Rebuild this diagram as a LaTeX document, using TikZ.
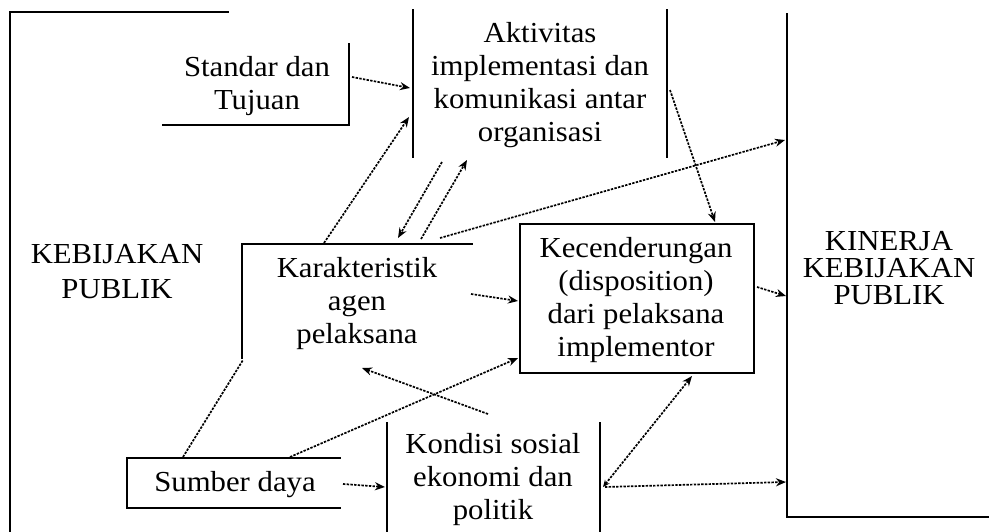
\documentclass[tikz,border=0pt]{standalone}
\usepackage{fontspec}
\setmainfont[FakeStretch=1.06]{Liberation Serif}
\usetikzlibrary{arrows.meta}
\begin{document}
\begin{tikzpicture}[x=1pt,y=-1pt,
  frame/.style={line width=1.8pt, line cap=rect},
  lbl/.style={align=center, inner sep=0pt, font=\fontsize{29}{33}\selectfont},
  conn/.style={line width=1.7pt, dash pattern=on 2.4pt off 1.3pt, -{Stealth[length=10pt,width=8pt]}},
  link/.style={line width=1.7pt, dash pattern=on 2.4pt off 1.3pt},
  both/.style={line width=1.7pt, dash pattern=on 2.4pt off 1.3pt, {Stealth[length=7pt,width=6pt]}-{Stealth[length=10pt,width=8pt]}}]
\path[use as bounding box, fill=white] (0,0) rectangle (989,531);

% frames (partial outlines as in the scan)
\draw[frame] (10,531) -- (10,12) -- (228,12);
\draw[frame] (163,125) -- (349,125) -- (349,44);
\draw[frame] (413,10) -- (413,157);
\draw[frame] (667,10) -- (667,157);
\draw[frame] (787,14) -- (787,517) -- (989,517);
\draw[frame] (242,358) -- (242,244) -- (472,244);
\draw[frame] (520,224) rectangle (754,373);
\draw[frame] (340,458) -- (127,458) -- (127,508) -- (340,508);
\draw[frame] (387,423) -- (387,531);
\draw[frame] (600,423) -- (600,531);

% texts
\node[lbl] (kp) at (117,272) {KEBIJAKAN\\[2pt]PUBLIK};
\node[lbl] (std) at (257,86) {Standar dan\\Tujuan};
\node[lbl] (akt) at (540,85) {Aktivitas\\implementasi dan\\komunikasi antar\\organisasi};
\node[lbl] (kar) at (357,304) {Karakteristik\\agen\\pelaksana};
\node[lbl] (kec) at (636,300) {Kecenderungan\\(disposition)\\dari pelaksana\\implementor};
\node[lbl] (sum) at (235,485) {Sumber daya};
\node[lbl] (kon) at (493,480) {Kondisi sosial\\ekonomi dan\\politik};
\node[lbl, font=\fontsize{29}{27}\selectfont] (kin) at (889,268) {KINERJA\\KEBIJAKAN\\PUBLIK};

% connector end points
\coordinate (stdR) at (352,77);   \coordinate (aktL1) at (410,88);
\coordinate (karT1) at (324,243); \coordinate (aktL2) at (409,117);
\coordinate (aktB1) at (442,162); \coordinate (karT2) at (398,238);
\coordinate (karT3) at (421,239); \coordinate (aktB2) at (467,160);
\coordinate (karT4) at (440,238); \coordinate (kinL1) at (785,140);
\coordinate (aktR) at (670,90);   \coordinate (kecT) at (715,222);
\coordinate (karR) at (471,294);  \coordinate (kecL1) at (518,301);
\coordinate (kecR) at (757,287);  \coordinate (kinL2) at (786,296);
\coordinate (sumT1) at (290,457); \coordinate (kecL2) at (518,358);
\coordinate (konT) at (488,414);  \coordinate (karB) at (362,368);
\coordinate (sumT2) at (183,457); \coordinate (karC) at (243,360);
\coordinate (sumR) at (343,484);  \coordinate (konL) at (385,487);
\coordinate (konR1) at (603,487); \coordinate (kecB) at (692,376);
\coordinate (konR2) at (605,487); \coordinate (kinL3) at (786,482);

% connectors
\draw[conn] (stdR) -- (aktL1);
\draw[conn] (karT1) -- (aktL2);
\draw[conn] (aktB1) -- (karT2);
\draw[conn] (karT3) -- (aktB2);
\draw[conn] (karT4) -- (kinL1);
\draw[conn] (aktR) -- (kecT);
\draw[conn] (karR) -- (kecL1);
\draw[conn] (kecR) -- (kinL2);
\draw[conn] (sumT1) -- (kecL2);
\draw[conn] (konT) -- (karB);
\draw[link] (sumT2) -- (karC);
\draw[conn] (sumR) -- (konL);
\draw[both] (konR1) -- (kecB);
\draw[conn] (konR2) -- (kinL3);
\end{tikzpicture}
\end{document}
